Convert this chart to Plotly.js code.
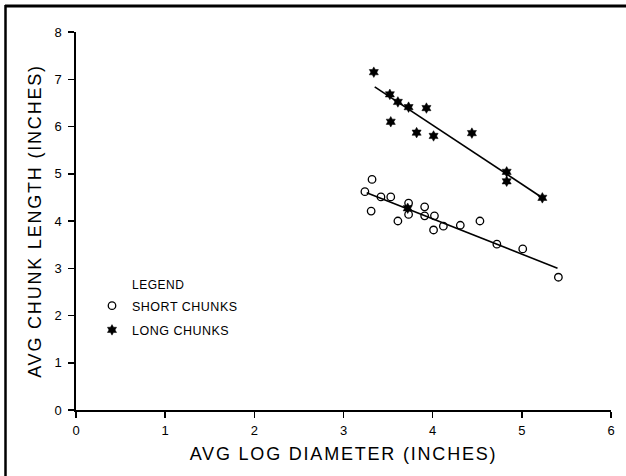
<!DOCTYPE html>
<html>
<head>
<meta charset="utf-8">
<script src="https://cdn.plot.ly/plotly-3.0.1.min.js"></script>
<style>
  html, body { margin: 0; padding: 0; background: #fff; }
  #chart { width: 626px; height: 476px; }
  .xtitle, .ytitle { letter-spacing: 1.8px; }
  .legendtext { letter-spacing: 0.5px; }
  .annotation-text { letter-spacing: 0.5px; }
</style>
</head>
<body>
<div id="chart"></div>
<script>
// Short chunks (open circles)
const shortX = [3.24, 3.32, 3.31, 3.42, 3.53, 3.61, 3.73, 3.73, 3.91, 3.91, 4.02, 4.01, 4.12, 4.31, 4.53, 4.72, 5.01, 5.41];
const shortY = [4.62, 4.88, 4.21, 4.51, 4.51, 4.00, 4.38, 4.14, 4.30, 4.11, 4.11, 3.81, 3.89, 3.91, 4.00, 3.51, 3.41, 2.81];
// Long chunks (stars)
const longX = [3.34, 3.52, 3.53, 3.61, 3.73, 3.72, 3.82, 3.93, 4.01, 4.44, 4.83, 4.83, 5.23];
const longY = [7.15, 6.68, 6.10, 6.52, 6.41, 4.27, 5.87, 6.39, 5.80, 5.86, 5.04, 4.84, 4.49];
// Fitted lines (end points)
const shortFitX = [3.26, 5.40];
const shortFitY = [4.60, 3.00];
const longFitX = [3.35, 5.20];
const longFitY = [6.84, 4.53];

const xTicks = [0, 1, 2, 3, 4, 5, 6];
const yTicks = [0, 1, 2, 3, 4, 5, 6, 7, 8];
const seriesNames = ['SHORT CHUNKS', 'LONG CHUNKS'];

const FONT = 'Liberation Sans, Arial, Helvetica, sans-serif';

const traces = [
  {
    x: shortFitX, y: shortFitY, mode: 'lines', showlegend: false, hoverinfo: 'skip',
    line: { color: '#000', width: 1.6 }
  },
  {
    x: longFitX, y: longFitY, mode: 'lines', showlegend: false, hoverinfo: 'skip',
    line: { color: '#000', width: 1.6 }
  },
  {
    x: shortX, y: shortY, mode: 'markers', name: seriesNames[0], legendgroup: 'a',
    marker: { symbol: 'circle-open', size: 7.5, color: '#000', line: { color: '#000', width: 1.3 } }
  },
  {
    x: longX, y: longY, mode: 'markers', name: seriesNames[1], legendgroup: 'b',
    marker: { symbol: 'hexagram', size: 8, color: '#000', line: { color: '#000', width: 0.5 } }
  }
];

const L = 76, R = 15, T = 32, B = 66;
const W = 626, H = 476;
const pw = W - L - R, ph = H - T - B;
const px = v => (v - L) / pw;          // pixel -> paper x
const py = v => (H - B - v) / ph;      // pixel -> paper y

const layout = {
  width: W, height: H,
  margin: { l: L, r: R, t: T, b: B, pad: 0 },
  paper_bgcolor: '#fff', plot_bgcolor: '#fff',
  font: { family: FONT, color: '#000', size: 12 },
  showlegend: true,
  legend: {
    x: px(92), y: py(291), xanchor: 'left', yanchor: 'top',
    bgcolor: 'rgba(0,0,0,0)', borderwidth: 0,
    font: { family: FONT, size: 12.5, color: '#000' },
    traceorder: 'grouped', tracegroupgap: 5, itemwidth: 30
  },
  xaxis: {
    range: [0, 6], tickvals: xTicks, ticktext: xTicks.map(String),
    showgrid: false, zeroline: false, showline: true, linecolor: '#000', linewidth: 1.6,
    ticks: 'outside', ticklen: 6, tickwidth: 1.5, tickcolor: '#000', ticklabelstandoff: 2,
    tickfont: { family: FONT, size: 13, color: '#000' },
    title: { text: 'AVG LOG DIAMETER (INCHES)', font: { family: FONT, size: 18, color: '#000' }, standoff: 10 },
    automargin: false, fixedrange: true
  },
  yaxis: {
    range: [0, 8], tickvals: yTicks, ticktext: yTicks.map(String),
    showgrid: false, zeroline: false, showline: true, linecolor: '#000', linewidth: 1.6,
    ticks: 'outside', ticklen: 6, tickwidth: 1.5, tickcolor: '#000', ticklabelstandoff: 4,
    tickfont: { family: FONT, size: 13, color: '#000' },
    title: { text: 'AVG CHUNK LENGTH (INCHES)', font: { family: FONT, size: 18, color: '#000' }, standoff: 8 },
    automargin: false, fixedrange: true
  },
  annotations: [
    {
      text: 'LEGEND', xref: 'paper', yref: 'paper', x: px(130), y: py(285),
      xanchor: 'left', yanchor: 'middle', showarrow: false,
      font: { family: FONT, size: 12, color: '#000' }
    }
  ],
  shapes: [
    { type: 'line', xref: 'paper', yref: 'paper', x0: px(5), x1: px(640), y0: py(6), y1: py(6), line: { color: '#000', width: 3 } },
    { type: 'line', xref: 'paper', yref: 'paper', x0: px(5.5), x1: px(5.5), y0: py(5), y1: py(490), line: { color: '#000', width: 2.5 } }
  ]
};

Plotly.newPlot('chart', traces, layout, { displayModeBar: false, staticPlot: true });
</script>
</body>
</html>
